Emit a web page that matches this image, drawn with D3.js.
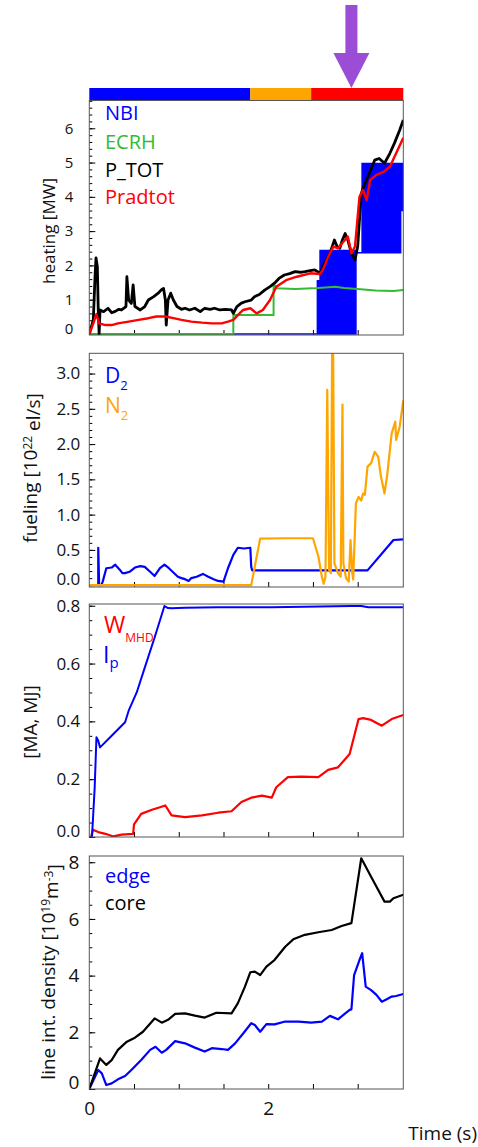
<!DOCTYPE html>
<html>
<head>
<meta charset="utf-8">
<script src="https://cdn.jsdelivr.net/npm/d3@7"></script>
<style>
body { margin: 0; background: #fff; }
svg { display: block; font-family: "Open Sans", sans-serif; }
</style>
</head>
<body>
<svg id="chart" width="478" height="1147"></svg>
<script>
// phase bar on top and the arrow marker (time in s)
var phaseStart = [0, 1.8, 2.48];
var phaseEnd = [1.8, 2.48, 3.51];
var phaseColor = ['#0000ff', '#ffa500', '#ff0000'];
var arrowTime = 2.93;

// heating [MW]
var pTot = [[0,0],[0.045,0.41],[0.064,1.67],[0.075,2.22],[0.09,1.96],[0.10,0.7],[0.11,0],[0.12,0.7],[0.16,0.65],[0.21,0.75],[0.25,0.62],[0.29,0.66],[0.33,0.72],[0.36,0.7],[0.41,0.8],[0.42,1.67],[0.44,0.99],[0.47,0.89],[0.49,1.43],[0.51,0.8],[0.57,0.7],[0.62,0.8],[0.66,0.99],[0.72,1.09],[0.77,1.19],[0.81,1.3],[0.83,1.33],[0.85,0.99],[0.86,0.26],[0.88,0.99],[0.91,1.19],[0.94,0.99],[0.98,0.8],[1.03,0.72],[1.07,0.75],[1.12,0.7],[1.18,0.75],[1.24,0.65],[1.29,0.75],[1.35,0.72],[1.40,0.75],[1.46,0.7],[1.52,0.72],[1.59,0.7],[1.61,0.6],[1.65,0.8],[1.70,0.9],[1.74,0.94],[1.81,0.99],[1.85,1.09],[1.90,1.15],[1.96,1.28],[2.02,1.38],[2.07,1.48],[2.12,1.62],[2.18,1.72],[2.24,1.76],[2.30,1.82],[2.36,1.8],[2.41,1.82],[2.47,1.85],[2.52,1.87],[2.58,1.77],[2.63,2.06],[2.69,2.35],[2.74,2.74],[2.77,2.55],[2.80,2.5],[2.83,2.75],[2.86,2.93],[2.89,2.74],[2.93,2.35],[2.97,2.16],[3.00,2.55],[3.04,4.1],[3.08,4.39],[3.13,4.68],[3.19,5.07],[3.24,5.12],[3.30,4.98],[3.36,5.27],[3.41,5.56],[3.47,5.95],[3.51,6.24]];
var pRad = [[0,0],[0.045,0.31],[0.08,0.58],[0.11,0.31],[0.18,0.26],[0.25,0.26],[0.32,0.31],[0.44,0.36],[0.55,0.41],[0.66,0.46],[0.75,0.51],[0.85,0.51],[0.94,0.46],[1.03,0.41],[1.14,0.36],[1.26,0.33],[1.37,0.31],[1.48,0.31],[1.55,0.36],[1.61,0.41],[1.68,0.6],[1.72,0.7],[1.80,0.75],[1.87,0.6],[1.94,0.7],[2.02,0.99],[2.09,1.38],[2.20,1.57],[2.32,1.67],[2.47,1.77],[2.58,1.75],[2.61,1.87],[2.67,2.25],[2.73,2.55],[2.78,2.5],[2.84,2.69],[2.89,2.84],[2.93,2.35],[2.97,2.55],[3.02,4.0],[3.06,4.2],[3.10,3.9],[3.14,4.49],[3.21,4.64],[3.29,4.73],[3.36,4.88],[3.43,5.27],[3.51,5.72]];
var ecrh = [[0,0],[1.61,0],[1.61,0.55],[2.06,0.55],[2.06,1.45],[2.1,1.33],[2.3,1.31],[2.5,1.33],[2.6,1.35],[2.75,1.38],[2.85,1.34],[3.0,1.31],[3.2,1.27],[3.4,1.25],[3.51,1.28]];
var nbiTime = [0, 2.55, 2.55, 2.58, 2.58, 2.98, 2.98, 3.05, 3.05, 3.48, 3.48, 3.51];
var nbiLow  = [0, 0, 0, 0, 0, 0, 2.37, 2.37, 2.37, 2.37, 3.6, 3.6];
var nbiHigh = [0, 0, 1.55, 1.55, 2.43, 2.43, 2.37, 2.37, 4.97, 4.97, 4.97, 4.97];

// fueling [1e22 el/s]
var d2 = [[0.09,0],[0.10,0],[0.10,0.53],[0.11,0],[0.135,0],[0.15,0.05],[0.19,0.24],[0.25,0.25],[0.29,0.29],[0.34,0.22],[0.37,0.17],[0.40,0.17],[0.45,0.19],[0.51,0.25],[0.57,0.27],[0.62,0.26],[0.68,0.19],[0.73,0.13],[0.79,0.24],[0.84,0.29],[0.89,0.24],[0.94,0.18],[0.99,0.12],[1.03,0.1],[1.07,0.085],[1.11,0.06],[1.14,0.1],[1.20,0.12],[1.27,0.16],[1.33,0.12],[1.39,0.085],[1.44,0.06],[1.50,0.05],[1.55,0.24],[1.61,0.43],[1.66,0.53],[1.73,0.52],[1.80,0.53],[1.81,0.26],[1.82,0.21],[3.11,0.21],[3.40,0.64],[3.51,0.65]];
var n2 = [[0,0],[1.81,0],[1.91,0.66],[2.19,0.665],[2.50,0.665],[2.56,0.41],[2.60,0.12],[2.62,0.02],[2.64,0.12],[2.66,2.77],[2.68,0.22],[2.70,0.17],[2.715,3.5],[2.725,3.5],[2.74,0.31],[2.78,0.17],[2.81,0.12],[2.83,2.56],[2.84,0.31],[2.87,0.1],[2.90,0.05],[2.92,0.64],[2.94,0.17],[2.95,0.08],[2.98,1.16],[3.01,1.25],[3.04,1.2],[3.06,1.3],[3.08,1.28],[3.11,1.68],[3.15,1.73],[3.19,1.89],[3.23,1.82],[3.26,1.54],[3.30,1.3],[3.33,1.56],[3.38,2.15],[3.42,2.32],[3.43,2.06],[3.47,2.25],[3.51,2.62]];

// [MA, MJ]
var ip = [[0,0],[0.03,0],[0.06,0.17],[0.08,0.345],[0.10,0.333],[0.12,0.31],[0.25,0.35],[0.40,0.397],[0.44,0.437],[0.53,0.5],[0.62,0.586],[0.73,0.69],[0.84,0.799],[0.88,0.792],[0.92,0.791],[1.07,0.793],[1.44,0.795],[2.04,0.795],[2.93,0.799],[3.04,0.799],[3.12,0.795],[3.51,0.795]];
var wmhd = [[0.02,0],[0.04,0.025],[0.10,0.017],[0.18,0.011],[0.27,0.002],[0.36,0.008],[0.49,0.011],[0.50,0.044],[0.58,0.08],[0.70,0.094],[0.79,0.103],[0.85,0.109],[0.92,0.075],[1.07,0.069],[1.26,0.075],[1.44,0.084],[1.59,0.089],[1.70,0.121],[1.81,0.136],[1.93,0.143],[2.04,0.136],[2.09,0.172],[2.22,0.207],[2.37,0.209],[2.56,0.207],[2.67,0.232],[2.78,0.241],[2.91,0.287],[3.01,0.408],[3.06,0.411],[3.15,0.405],[3.27,0.385],[3.38,0.408],[3.51,0.422]];

// line int. density [1e19 m^-3]
var core = [[0,0],[0.12,1.08],[0.19,0.85],[0.25,1.02],[0.32,1.38],[0.42,1.67],[0.51,1.81],[0.60,2.02],[0.73,2.49],[0.81,2.34],[0.88,2.44],[0.96,2.65],[1.07,2.67],[1.18,2.59],[1.29,2.52],[1.42,2.69],[1.59,2.67],[1.66,3.02],[1.74,3.61],[1.80,4.12],[1.85,4.14],[1.91,4.02],[1.98,4.32],[2.07,4.55],[2.19,5.02],[2.28,5.28],[2.41,5.44],[2.56,5.53],[2.71,5.61],[2.82,5.75],[2.93,5.85],[3.04,8.14],[3.15,7.49],[3.30,6.61],[3.36,6.61],[3.40,6.73],[3.51,6.85]];
var edge = [[0,0],[0.10,0.67],[0.14,0.55],[0.19,0.14],[0.25,0.2],[0.32,0.34],[0.40,0.46],[0.47,0.67],[0.58,1.02],[0.68,1.38],[0.74,1.49],[0.81,1.28],[0.86,1.38],[0.96,1.69],[1.07,1.61],[1.18,1.46],[1.29,1.32],[1.37,1.44],[1.48,1.41],[1.55,1.38],[1.63,1.61],[1.72,1.96],[1.81,2.32],[1.85,2.26],[1.91,2.02],[1.98,2.29],[2.07,2.28],[2.19,2.38],[2.34,2.38],[2.48,2.34],[2.60,2.38],[2.69,2.58],[2.78,2.46],[2.91,2.79],[2.93,2.81],[2.96,4.02],[3.02,4.55],[3.05,4.79],[3.09,3.61],[3.15,3.49],[3.21,3.32],[3.27,3.08],[3.32,3.16],[3.38,3.26],[3.43,3.28],[3.51,3.35]];

var svg = d3.select('#chart');
var x = d3.scaleLinear().domain([0, 3.51]).range([89.3, 403.3]);
var xTicks = [0.5, 1, 1.5, 2, 2.5, 3];

function panel(o) {
    var y = d3.scaleLinear().domain(o.domain).range([o.bottom, o.top]);
    var g = svg.append('g');
    var id = 'clip' + o.name;
    svg.append('clipPath').attr('id', id)
        .append('rect').attr('x', x.range()[0]).attr('y', o.top)
        .attr('width', x.range()[1] - x.range()[0]).attr('height', o.bottom - o.top);

    // minor + major ticks on the left, pointing inside
    g.append('g').attr('transform', 'translate(' + x.range()[0] + ',0)')
        .call(d3.axisLeft(y).tickValues(d3.range(o.domain[0] < 0 ? 0 : o.domain[0], o.domain[1], o.minor)).tickSize(-3).tickFormat(''))
        .call(function (a) { a.select('.domain').remove(); });
    var ya = g.append('g').attr('transform', 'translate(' + x.range()[0] + ',0)')
        .call(d3.axisLeft(y).tickValues(o.major).tickSize(-6).tickPadding(o.pad).tickFormat(o.fmt))
        .call(function (a) { a.select('.domain').remove(); });
    ya.selectAll('text').attr('fill', '#111').style('font-size', o.fs + 'px')
        .style('font-family', '"Open Sans", sans-serif')
        .filter(function (d) { return d === 0; }).attr('dy', '-0.05em');

    g.append('g').attr('transform', 'translate(0,' + o.bottom + ')')
        .call(d3.axisBottom(x).tickValues(xTicks).tickSize(-5).tickFormat(''))
        .call(function (a) { a.select('.domain').remove(); });

    var plot = g.append('g').attr('clip-path', 'url(#' + id + ')');
    o.draw(plot, y);

    g.append('rect').attr('x', x.range()[0]).attr('y', o.top)
        .attr('width', x.range()[1] - x.range()[0]).attr('height', o.bottom - o.top)
        .attr('fill', 'none').attr('stroke', '#555').attr('stroke-width', 1);

    // axis title
    svg.append('text')
        .attr('transform', 'translate(' + o.titleX + ',' + o.titleY + ') rotate(-90)')
        .attr('text-anchor', 'middle').style('font-size', o.titleFs + 'px').attr('fill', '#111')
        .call(o.title);
    return y;
}

function lineOf(y) {
    return d3.line().x(function (d) { return x(d[0]); }).y(function (d) { return y(d[1]); });
}
function addLine(plot, y, data, color, w) {
    plot.append('path').datum(data).attr('fill', 'none').attr('stroke', color)
        .attr('stroke-width', w).attr('stroke-linejoin', 'round').attr('d', lineOf(y));
}

// --- phase bar and arrow
svg.selectAll('rect.phase').data(phaseStart).enter().append('rect')
    .attr('class', 'phase')
    .attr('x', function (d) { return x(d); })
    .attr('width', function (d, i) { return x(phaseEnd[i]) - x(d); })
    .attr('y', 88).attr('height', 12.5)
    .attr('fill', function (d, i) { return phaseColor[i]; });

var ax = x(arrowTime);
svg.append('path')
    .attr('d', 'M' + (ax - 6) + ',5 H' + (ax + 6) + ' V53 H' + (ax + 18) + ' L' + ax + ',88 L' + (ax - 18) + ',53 H' + (ax - 6) + ' Z')
    .attr('fill', '#9b4dd6');

// --- panel 1: heating
panel({
    name: 'heat', top: 100.5, bottom: 335, domain: [-0.03, 6.81],
    major: [0, 1, 2, 3, 4, 5, 6], minor: 0.2, pad: 16, fs: 15, fmt: d3.format('d'),
    titleX: 55, titleY: 231, titleFs: 17,
    title: function (t) { t.text('heating [MW]'); },
    draw: function (p, y) {
        var nbi = nbiTime.map(function (t, i) { return [t, nbiLow[i], nbiHigh[i]]; });
        p.append('path').datum(nbi).attr('fill', '#0000ff').attr('stroke', '#0000ff').attr('stroke-width', 1.6)
            .attr('d', d3.area().x(function (d) { return x(d[0]); })
                .y0(function (d) { return y(d[1]); }).y1(function (d) { return y(d[2]); }));
        addLine(p, y, ecrh, '#33bb33', 2);
        addLine(p, y, pTot, '#000', 2.8);
        addLine(p, y, pRad, '#ff0000', 2.4);
    }
});
var leg1 = [['NBI', '#0000ff', 120], ['ECRH', '#33bb33', 149], ['P_TOT', '#000', 177], ['Pradtot', '#ff0000', 204]];
leg1.forEach(function (l) {
    svg.append('text').attr('x', 105).attr('y', l[2]).attr('fill', l[1]).style('font-size', '20px').text(l[0]);
});

// --- panel 2: fueling
panel({
    name: 'fuel', top: 353.3, bottom: 587, domain: [-0.026, 3.287],
    major: [0, 0.5, 1, 1.5, 2, 2.5, 3], minor: 0.1, pad: 9, fs: 17, fmt: d3.format('.1f'),
    titleX: 37, titleY: 468, titleFs: 19,
    title: function (t) {
        t.append('tspan').text('fueling [10');
        t.append('tspan').attr('dy', '-0.45em').style('font-size', '12px').text('22');
        t.append('tspan').attr('dy', '0.45em').text(' el/s]');
    },
    draw: function (p, y) {
        addLine(p, y, d2, '#0000ff', 2.2);
        addLine(p, y, n2, '#ffa500', 2.2);
    }
});
var leg2 = [['D', '#0000ff', 383], ['N', '#ffa500', 413]];
leg2.forEach(function (l) {
    var t = svg.append('text').attr('x', 105).attr('y', l[2]).attr('fill', l[1]).style('font-size', '21px');
    t.append('tspan').text(l[0]);
    t.append('tspan').attr('dy', 7).style('font-size', '13px').text('2');
});

// --- panel 3: Ip and W_MHD
panel({
    name: 'ip', top: 604, bottom: 837, domain: [0, 0.806],
    major: [0, 0.2, 0.4, 0.6, 0.8], minor: 0.05, pad: 9, fs: 17, fmt: d3.format('.1f'),
    titleX: 37, titleY: 722, titleFs: 19,
    title: function (t) { t.text('[MA, MJ]'); },
    draw: function (p, y) {
        addLine(p, y, wmhd, '#ff0000', 2.2);
        addLine(p, y, ip, '#0000ff', 2);
    }
});
var wl = svg.append('text').attr('x', 104).attr('y', 633).attr('fill', '#ff0000').style('font-size', '23px');
wl.append('tspan').text('W');
wl.append('tspan').attr('dy', 9).style('font-size', '12px').text('MHD');
var il = svg.append('text').attr('x', 103).attr('y', 663).attr('fill', '#0000ff').style('font-size', '23px');
il.append('tspan').text('I');
il.append('tspan').attr('dy', 5).style('font-size', '15px').text('p');

// --- panel 4: density
panel({
    name: 'dens', top: 856, bottom: 1089, domain: [0, 8.22],
    major: [0, 2, 4, 6, 8], minor: 0.5, pad: 10, fs: 19, fmt: d3.format('d'),
    titleX: 55, titleY: 972, titleFs: 19,
    title: function (t) {
        t.append('tspan').text('line int. density [10');
        t.append('tspan').attr('dy', '-0.45em').style('font-size', '12px').text('19');
        t.append('tspan').attr('dy', '0.45em').text('m');
        t.append('tspan').attr('dy', '-0.45em').style('font-size', '12px').text('-3');
        t.append('tspan').attr('dy', '0.45em').text(']');
    },
    draw: function (p, y) {
        addLine(p, y, edge, '#0000ff', 2.2);
        addLine(p, y, core, '#000', 2.2);
    }
});
svg.append('text').attr('x', 105).attr('y', 883).attr('fill', '#0000ff').style('font-size', '20px').text('edge');
svg.append('text').attr('x', 105).attr('y', 910).attr('fill', '#000').style('font-size', '20px').text('core');

// x tick labels and title
svg.append('g').attr('transform', 'translate(0,1089)')
    .call(d3.axisBottom(x).tickValues([0, 2]).tickSize(0).tickPadding(13).tickFormat(d3.format('d')))
    .call(function (a) { a.select('.domain').remove(); })
    .selectAll('text').attr('fill', '#111').style('font-size', '19px').style('font-family', '"Open Sans", sans-serif');
svg.append('text').attr('x', 477).attr('y', 1140).attr('text-anchor', 'end')
    .style('font-size', '19px').attr('fill', '#111').text('Time (s)');
</script>
</body>
</html>
